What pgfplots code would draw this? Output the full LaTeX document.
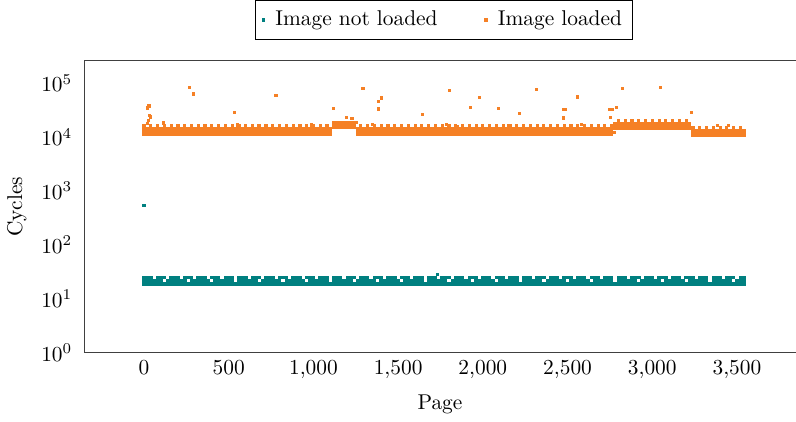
\documentclass[border=0pt]{standalone}
\usepackage{pgfplots}
\usepackage{pgfplotstable}
\pgfplotsset{compat=1.18}
\definecolor{ldorange}{RGB}{245,128,37}

% x o1..o4: image loaded rows, t1..t3: image not loaded rows
\pgfplotstableread{
x o1 o2 o3 o4 t1 t2 t3
0 11300 12700 14000 16200 19 22 25
20 11300 12700 14000 nan 19 22 25
40 11300 12700 14000 16200 19 22 25
60 11300 12700 14000 nan 19 22 nan
80 11300 12700 14000 16200 19 22 25
100 11300 12700 14000 nan 19 22 25
120 11300 12700 14000 16200 19 nan 25
140 11300 12700 14000 nan 19 22 nan
160 11300 12700 14000 16200 19 22 25
180 11300 12700 14000 nan 19 22 25
200 11300 12700 14000 16200 19 22 25
220 11300 12700 14000 nan 19 22 nan
240 11300 12700 14000 16200 19 22 25
260 11300 12700 14000 nan 19 nan 25
280 11300 12700 14000 16200 19 22 25
300 11300 12700 14000 nan 19 22 nan
320 11300 12700 14000 16200 19 22 25
340 11300 12700 14000 nan 19 22 25
360 11300 12700 14000 16200 19 22 25
380 11300 12700 14000 nan 19 22 nan
400 11300 12700 14000 16200 19 nan 25
420 11300 12700 14000 nan 19 22 25
440 11300 12700 14000 16200 19 22 25
460 11300 12700 14000 nan 19 22 nan
480 11300 12700 14000 16200 19 22 25
500 11300 12700 14000 nan 19 22 25
520 11300 12700 14000 16200 19 22 25
540 11300 12700 14000 nan 19 nan nan
560 11300 12700 14000 16200 19 22 25
580 11300 12700 14000 nan 19 22 25
600 11300 12700 14000 16200 19 22 25
620 11300 12700 14000 nan 19 22 nan
640 11300 12700 14000 16200 19 22 25
660 11300 12700 14000 nan 19 22 25
680 11300 12700 14000 16200 19 nan 25
700 11300 12700 14000 nan 19 22 nan
720 11300 12700 14000 16200 19 22 25
740 11300 12700 14000 nan 19 22 25
760 11300 12700 14000 16200 19 22 25
780 11300 12700 14000 nan 19 22 nan
800 11300 12700 14000 16200 19 22 25
820 11300 12700 14000 nan 19 nan 25
840 11300 12700 14000 16200 19 22 25
860 11300 12700 14000 nan 19 22 nan
880 11300 12700 14000 16200 19 22 25
900 11300 12700 14000 nan 19 22 25
920 11300 12700 14000 16200 19 22 25
940 11300 12700 14000 nan 19 22 nan
960 11300 12700 14000 16200 19 nan 25
980 11300 12700 14000 nan 19 22 25
1000 11300 12700 14000 16200 19 22 25
1020 11300 12700 14000 nan 19 22 nan
1040 11300 12700 14000 16200 19 22 25
1060 11300 12700 14000 nan 19 22 25
1080 11300 12700 14000 16200 19 22 25
1100 11300 12700 14000 nan 19 nan nan
1120 15400 17000 18700 nan 19 22 25
1140 15400 17000 18700 nan 19 22 25
1160 15400 17000 18700 nan 19 22 25
1180 15400 17000 18700 nan 19 22 nan
1200 15400 17000 18700 nan 19 22 25
1220 15400 17000 18700 nan 19 22 25
1240 15400 17000 18700 nan 19 nan 25
1260 11300 12700 14000 nan 19 22 nan
1280 11300 12700 14000 16200 19 22 25
1300 11300 12700 14000 nan 19 22 25
1320 11300 12700 14000 16200 19 22 25
1340 11300 12700 14000 nan 19 22 nan
1360 11300 12700 14000 16200 19 22 25
1380 11300 12700 14000 nan 19 nan 25
1400 11300 12700 14000 16200 19 22 25
1420 11300 12700 14000 nan 19 22 nan
1440 11300 12700 14000 16200 19 22 25
1460 11300 12700 14000 nan 19 22 25
1480 11300 12700 14000 16200 19 22 25
1500 11300 12700 14000 nan 19 22 nan
1520 11300 12700 14000 16200 19 nan 25
1540 11300 12700 14000 nan 19 22 25
1560 11300 12700 14000 16200 19 22 25
1580 11300 12700 14000 nan 19 22 nan
1600 11300 12700 14000 16200 19 22 25
1620 11300 12700 14000 nan 19 22 25
1640 11300 12700 14000 16200 19 22 25
1660 11300 12700 14000 nan 19 nan nan
1680 11300 12700 14000 16200 19 22 25
1700 11300 12700 14000 nan 19 22 25
1720 11300 12700 14000 16200 19 22 25
1740 11300 12700 14000 nan 19 22 nan
1760 11300 12700 14000 16200 19 22 25
1780 11300 12700 14000 nan 19 22 25
1800 11300 12700 14000 16200 19 nan 25
1820 11300 12700 14000 nan 19 22 nan
1840 11300 12700 14000 16200 19 22 25
1860 11300 12700 14000 nan 19 22 25
1880 11300 12700 14000 16200 19 22 25
1900 11300 12700 14000 nan 19 22 nan
1920 11300 12700 14000 16200 19 22 25
1940 11300 12700 14000 nan 19 nan 25
1960 11300 12700 14000 16200 19 22 25
1980 11300 12700 14000 nan 19 22 nan
2000 11300 12700 14000 16200 19 22 25
2020 11300 12700 14000 nan 19 22 25
2040 11300 12700 14000 16200 19 22 25
2060 11300 12700 14000 nan 19 22 nan
2080 11300 12700 14000 16200 19 nan 25
2100 11300 12700 14000 nan 19 22 25
2120 11300 12700 14000 16200 19 22 25
2140 11300 12700 14000 nan 19 22 nan
2160 11300 12700 14000 16200 19 22 25
2180 11300 12700 14000 nan 19 22 25
2200 11300 12700 14000 16200 19 22 25
2220 11300 12700 14000 nan 19 nan nan
2240 11300 12700 14000 16200 19 22 25
2260 11300 12700 14000 nan 19 22 25
2280 11300 12700 14000 16200 19 22 25
2300 11300 12700 14000 nan 19 22 nan
2320 11300 12700 14000 16200 19 22 25
2340 11300 12700 14000 nan 19 22 25
2360 11300 12700 14000 16200 19 nan 25
2380 11300 12700 14000 nan 19 22 nan
2400 11300 12700 14000 16200 19 22 25
2420 11300 12700 14000 nan 19 22 25
2440 11300 12700 14000 16200 19 22 25
2460 11300 12700 14000 nan 19 22 nan
2480 11300 12700 14000 16200 19 22 25
2500 11300 12700 14000 nan 19 nan 25
2520 11300 12700 14000 16200 19 22 25
2540 11300 12700 14000 nan 19 22 nan
2560 11300 12700 14000 16200 19 22 25
2580 11300 12700 14000 nan 19 22 25
2600 11300 12700 14000 16200 19 22 25
2620 11300 12700 14000 nan 19 22 nan
2640 11300 12700 14000 16200 19 nan 25
2660 11300 12700 14000 nan 19 22 25
2680 11300 12700 14000 16200 19 22 25
2700 11300 12700 14000 nan 19 22 nan
2720 11300 12700 14000 16200 19 22 25
2740 11300 12700 14000 nan 19 22 25
2760 11300 12700 14000 16200 19 22 25
2780 14800 16300 17900 nan 19 nan nan
2800 14800 16300 17900 20500 19 22 25
2820 14800 16300 17900 nan 19 22 25
2840 14800 16300 17900 20500 19 22 25
2860 14800 16300 17900 nan 19 22 nan
2880 14800 16300 17900 20500 19 22 25
2900 14800 16300 17900 nan 19 22 25
2920 14800 16300 17900 20500 19 nan 25
2940 14800 16300 17900 nan 19 22 nan
2960 14800 16300 17900 20500 19 22 25
2980 14800 16300 17900 nan 19 22 25
3000 14800 16300 17900 20500 19 22 25
3020 14800 16300 17900 nan 19 22 nan
3040 14800 16300 17900 20500 19 22 25
3060 14800 16300 17900 nan 19 nan 25
3080 14800 16300 17900 20500 19 22 25
3100 14800 16300 17900 nan 19 22 nan
3120 14800 16300 17900 20500 19 22 25
3140 14800 16300 17900 nan 19 22 25
3160 14800 16300 17900 20500 19 22 25
3180 14800 16300 17900 nan 19 22 nan
3200 14800 16300 17900 20500 19 nan 25
3220 14800 16300 17900 nan 19 22 25
3240 11000 12000 13000 14800 19 22 25
3260 11000 12000 13000 nan 19 22 nan
3280 11000 12000 13000 14800 19 22 25
3300 11000 12000 13000 nan 19 22 25
3320 11000 12000 13000 14800 19 22 25
3340 11000 12000 13000 nan 19 nan nan
3360 11000 12000 13000 14800 19 22 25
3380 11000 12000 13000 nan 19 22 25
3400 11000 12000 13000 14800 19 22 25
3420 11000 12000 13000 nan 19 22 nan
3440 11000 12000 13000 14800 19 22 25
3460 11000 12000 13000 nan 19 22 25
3480 11000 12000 13000 14800 19 nan 25
3500 11000 12000 13000 nan 19 22 nan
3520 11000 12000 13000 14800 19 22 25
3540 11000 12000 13000 nan 19 22 25
}\pages

\begin{document}
\begin{tikzpicture}
\begin{axis}[
  scale only axis, width=332.6pt, height=136.5pt,
  ymode=log, xmin=-352, xmax=3846, ymin=1, ymax=2.6e5,
  xtick={0,500,...,3500}, ytick={1,10,100,1000,10000,100000},
  tick style={draw=none},
  axis x line=box, axis y line=left, y axis line style={-},
  axis line style={black!75},
  xlabel={Page}, ylabel={Cycles},
  xlabel style={yshift=-1pt},
  unbounded coords=discard,
  legend style={at={(0.506,1)}, anchor=south, yshift=10pt,
    legend columns=2, draw=black, inner ysep=2.8pt,
    /tikz/every odd column/.append style={column sep=3pt},
    /tikz/every even column/.append style={column sep=20pt}},
  every axis plot/.append style={only marks, mark=square*, mark size=0.6pt,
    mark options={draw=none}},
]
\addplot[teal] table[x=x, y=t1] {\pages};
\addlegendentry{Image not loaded}
\addplot[teal, forget plot] table[x=x, y=t2] {\pages};
\addplot[teal, forget plot] table[x=x, y=t3] {\pages};
\addplot[teal, forget plot, mark size=0.5pt] coordinates {(0,540) (1733,28)};
\addplot[ldorange] table[x=x, y=o1] {\pages};
\addlegendentry{Image loaded}
\addplot[ldorange, forget plot] table[x=x, y=o2] {\pages};
\addplot[ldorange, forget plot] table[x=x, y=o3] {\pages};
\addplot[ldorange, forget plot, mark size=0.5pt] table[x=x, y=o4] {\pages};
\addplot[ldorange, forget plot, mark size=0.5pt] coordinates {
  (19,34800) (27,37800) (33,37800) (37,23600) (20,18000) (25,20500) (30,25000)
  (117,18300) (266,84400) (294,63100) (536,28400) (552,16800) (675,16500)
  (779,59800) (986,16800) (1116,33800) (1196,23000) (1227,22100) (1255,18600)
  (1292,79600) (1350,17200) (1382,46300) (1382,33300) (1400,53300) (1644,26500)
  (1785,17200) (1803,74100) (1848,16000) (1926,35600) (1981,54200) (2094,34300)
  (2149,16500) (2218,27300) (2315,76400) (2474,22600) (2478,32600) (2490,32800)
  (2556,55700) (2582,17000) (2748,32600) (2752,23000) (2764,32000) (2778,12400)
  (2787,35600) (2826,79600) (3048,83200) (3204,20500) (3233,28900) (3386,16500)
  (3451,16200)};
\end{axis}
\end{tikzpicture}
\end{document}
